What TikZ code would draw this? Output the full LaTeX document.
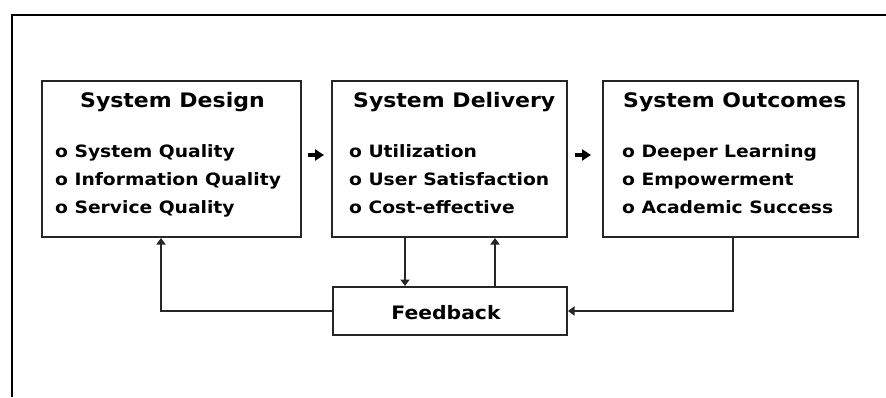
\documentclass[tikz,border=0pt]{standalone}
\usepackage{fontspec}
\newfontfamily\dfont{DejaVu Sans}[FakeStretch=1.1]
\usetikzlibrary{arrows.meta}
\begin{document}
\begin{tikzpicture}[x=1pt,y=-1pt,
  boxstyle/.style={draw=black!85,line width=2pt,rectangle,inner sep=0pt},
  titlestyle/.style={anchor=base west,inner sep=0pt,font=\dfont\bfseries\fontsize{20}{24}\selectfont},
  itemstyle/.style={anchor=base west,inner sep=0pt,font=\dfont\bfseries\fontsize{17}{21}\selectfont},
  conn/.style={draw=black!85,line width=1.8pt},
  conntip/.style={conn,-{Triangle[length=6.5pt,width=9pt]}},
  blockarrow/.style={draw=black,line width=4.5pt,-{Triangle[length=9pt,width=11pt]}}]
\useasboundingbox (0,0) rectangle (886,397);
% frame
\draw[line width=2.6pt,black] (12,397) -- (12,15) -- (886,15);
% boxes
\node[boxstyle,minimum width=259pt,minimum height=156pt] (b1) at (171.5,159) {};
\node[boxstyle,minimum width=235pt,minimum height=156pt] (b2) at (449.5,159) {};
\node[boxstyle,minimum width=255pt,minimum height=156pt] (b3) at (730.5,159) {};
\node[boxstyle,minimum width=234pt,minimum height=48pt] (fb) at (450,311) {};
% texts box 1
\node[titlestyle] (t1) at (80,107) {System Design};
\node[itemstyle] (i11) at (55,157) {o System Quality};
\node[itemstyle] (i12) at (55,185) {o Information Quality};
\node[itemstyle] (i13) at (55,213) {o Service Quality};
% texts box 2
\node[titlestyle] (t2) at (353,107) {System Delivery};
\node[itemstyle] (i21) at (349,157) {o Utilization};
\node[itemstyle] (i22) at (349,185) {o User Satisfaction};
\node[itemstyle] (i23) at (349,213) {o Cost-effective};
% texts box 3
\node[titlestyle] (t3) at (623,107) {System Outcomes};
\node[itemstyle] (i31) at (622,157) {o Deeper Learning};
\node[itemstyle] (i32) at (622,185) {o Empowerment};
\node[itemstyle] (i33) at (622,213) {o Academic Success};
% feedback text
\node[anchor=base,inner sep=0pt,font=\dfont\bfseries\fontsize{18.5}{22}\selectfont] (tf) at (446,319) {Feedback};
% block arrows between boxes
\draw[blockarrow] ([xshift=6pt,yshift=4pt]b1.east) -- ([xshift=-7pt,yshift=4pt]b2.west);
\draw[blockarrow] ([xshift=7pt,yshift=4pt]b2.east) -- ([xshift=-11pt,yshift=4pt]b3.west);
% feedback connectors
\draw[conntip] (fb.west) -| ([xshift=-10.5pt]b1.south);
\draw[conntip] ([xshift=-44.5pt]b2.south) -- ([xshift=-44.5pt]b2.south |- fb.north);
\draw[conntip] ([xshift=45.5pt]b2.south |- fb.north) -- ([xshift=45.5pt]b2.south);
\draw[conntip] ([xshift=2.5pt]b3.south) |- (fb.east);
\end{tikzpicture}
\end{document}
